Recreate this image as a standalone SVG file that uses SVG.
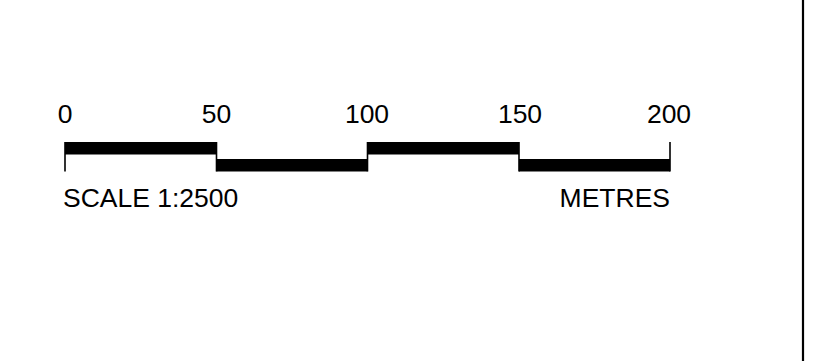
<svg xmlns="http://www.w3.org/2000/svg" width="828" height="361" viewBox="0 0 828 361">
<style>
text{font-family:"Liberation Sans",Arial,sans-serif;font-size:26.5px;fill:#000}
.bar{fill:#000}
.tick{stroke:#000;stroke-width:1.6;fill:none}
</style>
<rect width="828" height="361" fill="#fff"/>
<g id="border"><line x1="803" y1="0" x2="803" y2="361" stroke="#000" stroke-width="2.2"/></g>
<g id="scalebar">
<rect class="bar" x="65" y="142" width="151.5" height="12.5"/>
<rect class="bar" x="216.5" y="159" width="151" height="12.5"/>
<rect class="bar" x="367.5" y="142" width="151.5" height="12.5"/>
<rect class="bar" x="519" y="159" width="151" height="12.5"/>
<path class="tick" d="M65,142V171.5M216.5,142V171.5M367.5,142V171.5M519,142V171.5M670,142V171.5"/>
</g>
<g id="labels">
<text x="65" y="123" text-anchor="middle">0</text>
<text x="216.5" y="123" text-anchor="middle">50</text>
<text x="367" y="123" text-anchor="middle">100</text>
<text x="520" y="123" text-anchor="middle">150</text>
<text x="669" y="123" text-anchor="middle">200</text>
<text x="63" y="206.5">SCALE 1:2500</text>
<text x="670" y="206.5" text-anchor="end">METRES</text>
</g>
</svg>
